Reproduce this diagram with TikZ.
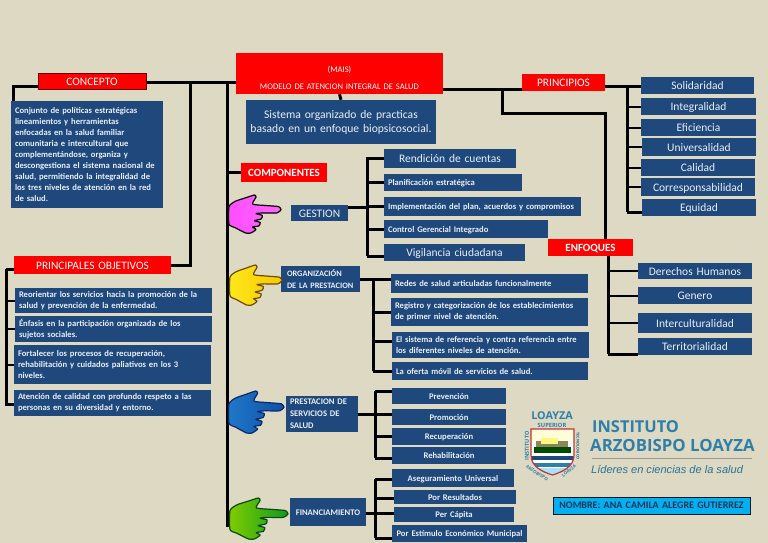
\documentclass[tikz,border=0pt]{standalone}
\usepackage{fontspec}
\setmainfont{Carlito}
\newfontfamily\logofont{Open Sans}
\newfontfamily\tagfont{Liberation Sans}
\usetikzlibrary{calc}
\hyphenpenalty=10000
\definecolor{bgtan}{HTML}{DDD9C3}
\definecolor{navy}{HTML}{1F497D}
\definecolor{ink}{HTML}{E9EEF6}
\definecolor{logoblue}{HTML}{2F7FA8}
\definecolor{namecyan}{HTML}{00B0F0}
\definecolor{pinkA}{HTML}{FF4DFF}
\definecolor{pinkB}{HTML}{FF66FF}
\definecolor{yelA}{HTML}{FFE81A}
\definecolor{yelB}{HTML}{F5C800}
\definecolor{yelL}{HTML}{6E4A00}
\definecolor{bluA}{HTML}{1F78C8}
\definecolor{bluB}{HTML}{0F4FA8}
\definecolor{bluL}{HTML}{0A2A6A}
\definecolor{greA}{HTML}{7FCC00}
\definecolor{greB}{HTML}{109A20}
\definecolor{greL}{HTML}{0A4A10}
\newcommand{\fs}[2]{\fontsize{#1}{#2}\selectfont}
\tikzset{
  x=1pt,y=-1pt,
  wire/.style={draw=black,line width=3pt,line join=miter},
  thin wire/.style={draw=black,line width=2pt},
  redbox/.style={fill=red,text=white},
  redline/.style={draw=black!20!red!55!black,line width=1pt},
  bluebox/.style={fill=navy,text=ink},
  small/.style={font=\bfseries\fs{8.6}{11}},
  one/.style={text height=6pt,text depth=0pt},
  mid/.style={font=\fs{11.5}{14},text height=8.5pt,text depth=0pt},
  head/.style={font=\fs{11.4}{13},text height=8.5pt,text depth=0pt},
  lbl/.style={font=\bfseries\fs{8.6}{12}},
  lft/.style={align=left},
}
\newcommand{\bx}[7][]{%
  \pgfmathsetmacro\bxw{#5-#3-8}%
  \pgfmathsetmacro\bxmw{#5-#3}%
  \pgfmathsetmacro\bxmh{#6-#4}%
  \node[inner sep=0pt,minimum width=\bxmw pt,minimum height=\bxmh pt,text width=\bxw pt,align=center,#1] (#2) at ({(#3+#5)/2},{(#4+#6)/2}) {#7};}
\newcommand{\hand}[7]{% x0 y0 w h left-colour right-colour outline
  \pgfmathsetmacro\hx{#3/150}\pgfmathsetmacro\hy{#4/108}
  \begin{scope}[shift={(#1,#2)},xscale=\hx,yscale=\hy]
  \draw[line width=1.2pt,line join=round,draw=#7,left color=#5,right color=#6]
   plot[smooth cycle,tension=0.35] coordinates {(0,33)(18,18)(48,8)(73,0)(78,6)(68,26)(108,30)(143,33)(150,42)(138,51)(98,51)(78,53)(96,58)(93,68)(73,73)(90,78)(86,88)(68,91)(78,98)(63,108)(48,108)(18,93)(0,83)};
  \end{scope}}
\begin{document}
\begin{tikzpicture}
\useasboundingbox (0,0) rectangle (768,543);
\fill[bgtan] (0,0) rectangle (768,543);

% ---- red heads
\bx[redbox,redline,head]{concepto}{38}{73}{146}{89}{CONCEPTO}
\bx[redbox,head]{objetivos}{14}{256}{171}{274}{PRINCIPALES OBJETIVOS}
\bx[redbox,font=\fs{8.6}{17.5},text height=7pt,text depth=9.5pt]{mais}{236}{53}{443}{94}{(MAIS)\\MODELO DE ATENCION INTEGRAL DE SALUD}
\bx[redbox,font=\bfseries\fs{11}{13},text height=7.5pt,text depth=0pt]{componentes}{241}{163}{327}{182}{COMPONENTES}
\bx[redbox,head]{principios}{522}{74}{605}{91}{PRINCIPIOS}
\bx[redbox,font=\bfseries\fs{11}{13},text height=8.5pt,text depth=0pt]{enfoques}{548}{239}{633}{256}{ENFOQUES}

% ---- left column
\bx[bluebox,small,lft]{cdesc}{11}{101}{163}{208}{Conjunto de políticas estratégicas\\lineamientos y herramientas\\enfocadas en la salud familiar\\comunitaria e intercultural que\\complementándose, organiza y\\descongestiona el sistema nacional de\\salud, permitiendo la integralidad de\\los tres niveles de atención en la red\\de salud.}
\bx[bluebox,small,lft]{ob1}{15}{288}{212}{313}{Reorientar los servicios hacia la promoción de la\\salud y prevención de la enfermedad.}
\bx[bluebox,small,lft]{ob2}{15}{316}{212}{342}{Énfasis en la participación organizada de los\\sujetos sociales.}
\bx[bluebox,small,lft]{ob3}{14}{345}{211}{384}{Fortalecer los procesos de recuperación,\\rehabilitación y cuidados paliativos en los 3\\niveles.}
\bx[bluebox,small,lft]{ob4}{14}{390}{211}{416}{Atención de calidad con profundo respeto a las\\personas en su diversidad y entorno.}

% ---- centre
\bx[bluebox,font=\fs{11.6}{14}]{sistema}{246}{100}{436}{144}{Sistema organizado de practicas\\basado en un enfoque biopsicosocial.}
\bx[bluebox,mid]{gestion}{291}{205}{348}{221}{GESTION}
\bx[bluebox,mid]{g1}{384}{149}{516}{168}{Rendición de cuentas}
\bx[bluebox,small,one,lft]{g2}{384}{174}{522}{191}{Planificación estratégica}
\bx[bluebox,small,one,lft]{g3}{384}{197}{581}{216}{Implementación del plan, acuerdos y compromisos}
\bx[bluebox,small,one,lft]{g4}{384}{220}{548}{238}{Control Gerencial Integrado}
\bx[bluebox,mid]{g5}{384}{244}{525}{261}{Vigilancia ciudadana}

\bx[bluebox,lbl,font=\bfseries\fs{8.3}{12},lft]{organiza}{281}{266}{360}{292}{\hspace*{2pt}ORGANIZACIÓN\\\hspace*{2pt}DE LA PRESTACION}
\bx[bluebox,small,one,lft]{o1}{391}{274}{588}{293}{Redes de salud articuladas funcionalmente}
\bx[bluebox,small,lft]{o2}{391}{298}{588}{326}{Registro y categorización de los establecimientos\\de primer nivel de atención.}
\bx[bluebox,small,lft]{o3}{392}{332}{589}{358}{El sistema de referencia y contra referencia entre\\los diferentes niveles de atención.}
\bx[bluebox,small,one,lft]{o4}{392}{362}{588}{380}{La oferta móvil de servicios de salud.}

\bx[bluebox,lbl,lft]{presta}{286}{396}{358}{432}{PRESTACION DE\\SERVICIOS DE\\SALUD}
\bx[bluebox,small,one]{p1}{392}{388}{506}{404}{Prevención}
\bx[bluebox,small,one]{p2}{392}{409}{506}{425}{Promoción}
\bx[bluebox,small,one]{p3}{392}{428}{506}{445}{Recuperación}
\bx[bluebox,small,one]{p4}{392}{447}{506}{464}{Rehabilitación}

\bx[bluebox,lbl,one]{finan}{290}{498}{366}{526}{FINANCIAMIENTO}
\bx[bluebox,small,one]{f1}{392}{469}{514}{487}{Aseguramiento Universal}
\bx[bluebox,small,one]{f2}{394}{490}{516}{504}{Por Resultados}
\bx[bluebox,small,one]{f3}{394}{507}{514}{522}{Per Cápita}
\bx[bluebox,small,one]{f4}{392}{525}{527}{542}{Por Estímulo Económico Municipal}

% ---- right
\bx[bluebox,mid]{r1}{641}{77}{754}{94}{Solidaridad}
\bx[bluebox,mid]{r2}{641}{98}{756}{115}{Integralidad}
\bx[bluebox,mid]{r3}{641}{119}{756}{136}{Eficiencia}
\bx[bluebox,mid]{r4}{642}{138}{756}{156}{Universalidad}
\bx[bluebox,mid]{r5}{641}{159}{755}{176}{Calidad}
\bx[bluebox,mid]{r6}{641}{178}{755}{196}{Corresponsabilidad}
\bx[bluebox,mid]{r7}{642}{199}{756}{216}{Equidad}
\bx[bluebox,mid]{e1}{638}{263}{752}{279}{Derechos Humanos}
\bx[bluebox,mid]{e2}{638}{287}{752}{304}{Genero}
\bx[bluebox,mid]{e3}{638}{313}{752}{333}{Interculturalidad}
\bx[bluebox,mid]{e4}{638}{338}{752}{355}{Territorialidad}

% ---- junction coordinates
\coordinate (jmain) at (227,82);
\coordinate (jmainb) at (227,527);
\coordinate (jobj) at (190,82);
\coordinate (jpr) at (502,89);
\coordinate (jprb) at (502,113);
\coordinate (jen) at (605,113);
\coordinate (jconA) at (13,86);
\coordinate (jobA) at (6,269);
\coordinate (jobB) at (6,404);
\coordinate (jprR) at (605,86);
\coordinate (tg) at (367,157);
\coordinate (tgb) at (367,256);
\coordinate (to) at (373,279);
\coordinate (tob) at (373,371);
\coordinate (tp) at (375,391);
\coordinate (tpb) at (375,458);
\coordinate (tf) at (375,479);
\coordinate (tfb) at (375,538);
\coordinate (tr) at (627,87);
\coordinate (trb) at (627,212);
\coordinate (te) at (608,256);
\coordinate (teb) at (608,354);

% ---- connectors
\draw[wire] (concepto.east |- jmain) -- (mais.west |- jmain);
\draw[wire] (concepto.west |- jconA) -- (jconA) -- (jconA |- cdesc.north);
\draw[wire] (jobj) -- (jobj |- objetivos.east) -- (objetivos.east);
\draw[wire] (jmain) -- (jmainb);
\draw[wire] (jmain |- componentes.west) -- (componentes.west);
\draw[wire] (mais.south) -- (sistema.north);
\draw[wire] (mais.east |- jpr) -- (principios.west |- jpr);
\draw[wire] (jpr) -- (jprb) -- (jen) -- (enfoques.north -| jen);
\draw[wire] (jprR) -- (jprR -| r1.west);
\draw[wire] (tr) -- (trb);
\foreach \n in {r2,r3,r4,r5,r6} \draw[thin wire] (tr |- \n.west) -- (\n.west);
\draw[wire] (tr |- trb) -- (trb -| r7.west);
\draw[wire] (enfoques.south -| te) -- (teb);
\foreach \n in {e1,e2,e3} \draw[thin wire] (te |- \n.west) -- (\n.west);
\draw[wire] (teb) -- (teb -| e4.west);

\draw[wire] (jobA) -- (objetivos.west |- jobA);
\draw[wire] (jobA) -- (jobB) -- (jobB -| ob4.west);
\foreach \n in {ob1,ob2,ob3} \draw[thin wire] (jobA |- \n.west) -- (\n.west);

\draw[wire] (gestion.east |- 0,207) -- (0,207 -| tg);
\draw[wire] (tg) -- (tgb);
\foreach \n in {g1,g2,g3,g4} \draw[wire] (tg |- \n.west) -- (\n.west);
\draw[wire] (tgb) -- (tgb -| g5.west);

\draw[wire] (organiza.east |- to) -- (to -| o1.west);
\draw[wire] (to) -- (tob);
\draw[wire] (to |- o2.west) -- (o2.west);
\draw[wire] (to |- 0,341) -- (0,341 -| o3.west);
\draw[wire] (to |- tob) -- (tob -| o4.west);

\draw[wire] (presta.east) -- (presta.east -| p2.west);
\draw[wire] (tp) -- (tpb);
\draw[wire] (tp) -- (tp -| p1.west);
\draw[wire] (tp |- p3.west) -- (p3.west);
\draw[wire] (tpb) -- (tpb -| p4.west);

\draw[wire] (finan.east |- 0,513) -- (0,513 -| tf);
\draw[wire] (tf) -- (tfb);
\draw[wire] (tf) -- (tf -| f1.west);
\draw[wire] (tf |- 0,498) -- (0,498 -| f2.west);
\draw[wire] (tf |- 0,513) -- (0,513 -| f3.west);
\draw[wire] (tfb) -- (tfb -| f4.west);

% ---- hands
\hand{229}{195}{52}{38}{pinkA}{pinkB}{black}
\hand{230}{265}{52}{40}{yelA}{yelB}{yelL}
\hand{229}{391}{55}{42}{bluA}{bluB}{bluL}
\hand{230}{498}{58}{41}{greA}{greB}{greL}

% ---- logo
\node[text=logoblue,font=\bfseries\logofont\fs{10.8}{12}] (loayza) at (552,416) {LOAYZA};
\node[text=logoblue,font=\bfseries\logofont\fs{5.8}{7}] (superior) at (552,425) {SUPERIOR};
\begin{scope}
  \path[clip] (531,429) -- (574,429) -- (574,455) .. controls (574,467) and (562,472) .. (552.5,475) .. controls (543,472) and (531,467) .. (531,455) -- cycle;
  \fill[white] (531,429) rectangle (574,476);
  \fill[yellow!15!white] (531,429) rectangle (574,441);
  \fill[olive!50!black!70] (536,441) rectangle (568,447);
  \fill[yellow!50!white] (541,438) rectangle (558,444);
  \fill[green!30!black] (534,447) rectangle (571,453);
  \fill[navy] (531,456) rectangle (574,460);
  \fill[logoblue] (531,463) rectangle (574,467);
  \fill[cyan!35] (531,468) rectangle (574,476);
\end{scope}
\draw[red!70!black!80,line width=1.2pt] (531,429) -- (574,429) -- (574,455) .. controls (574,467) and (562,472) .. (552.5,475) .. controls (543,472) and (531,467) .. (531,455) -- cycle;
\node[text=logoblue,font=\bfseries\logofont\fs{5.5}{6},rotate=90] (instituto2) at (527,446) {INSTITUTO};
\node[text=logoblue!80!black,font=\bfseries\logofont\fs{3.7}{4},rotate=-90] (tecno) at (578,446) {TECNOLOGICO};
\node[text=logoblue,font=\bfseries\logofont\fs{4.4}{5},rotate=-32,inner sep=0pt] (arz) at (537,473) {ARZOBISPO};
\node[text=logoblue,font=\bfseries\logofont\fs{4.4}{5},rotate=38,inner sep=0pt] (loy) at (569,471) {LOAYZA};
\node[text=logoblue,font=\bfseries\logofont\fs{16.4}{20},anchor=west,inner sep=0pt] (inst) at (592,426.5) {INSTITUTO};
\node[text=logoblue,font=\bfseries\logofont\fs{16.8}{20},anchor=west,inner sep=0pt] (arzl) at (590,445) {ARZOBISPO LOAYZA};
\draw[draw=gray!80,line width=0.7pt] (592,458) -- (752,458);
\node[text=logoblue!90!black,font=\tagfont\itshape\fs{11.05}{14},anchor=west,inner sep=0pt] (tag) at (591,469) {Líderes en ciencias de la salud};
\bx[fill=namecyan,draw=black!70!navy,line width=1pt,text=navy!70!black,font=\bfseries\fs{10}{11},one]{nombre}{553}{497}{750}{514}{NOMBRE: ANA CAMILA ALEGRE GUTIERREZ}
\end{tikzpicture}
\end{document}
